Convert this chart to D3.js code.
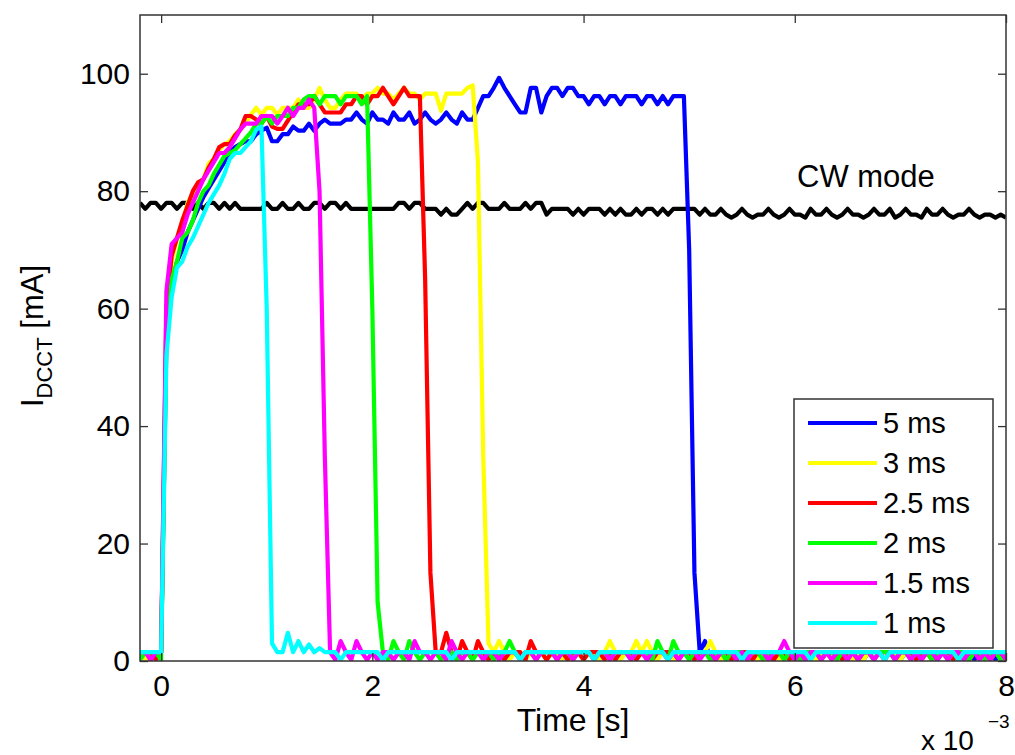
<!DOCTYPE html>
<html><head><meta charset="utf-8">
<script src="https://cdn.jsdelivr.net/npm/d3@7"></script>
<style>
html,body{margin:0;padding:0;background:#fff;}
svg text{font-family:"Liberation Sans",Arial,Helvetica,sans-serif;fill:#000;}
</style></head>
<body><svg id="chart" width="1015" height="755"></svg>
<script>
// ---- data (time grid in ms, step 0.05 ms from -0.2 to 8.0) ----
const time = d3.range(165).map(i => +(-0.2 + 0.05 * i).toFixed(2));

const labels = ["5 ms", "3 ms", "2.5 ms", "2 ms", "1.5 ms", "1 ms"];
const colors = ["#0000ff", "#ffff00", "#ff0000", "#00ff00", "#ff00ff", "#00ffff"];

const pulse5 = [
1.5,1.5,0.2,1.5,1.5,
55,64,68,70,73,75,77,79,80.5,82,83.5,85,86.5,87.5,88,88.5,88.5,89.7,90.3,90.8,
88.5,88.5,89.7,89.7,91,90.3,90.3,91.5,90.3,91.5,92.2,91.5,91.5,91.5,92.2,92.2,93.4,92.2,91.5,93.4,
92.2,92.2,91.5,93.4,92.2,92.2,93.4,91.5,92.2,93.4,92.2,91.5,92.2,93.4,92.2,91.5,93.4,92.2,
92.2,94.2,96.2,96.2,97.6,99.3,97.6,96.2,94.8,93.4,93.4,97.6,97.6,93.4,96.2,97.6,97.6,96.2,97.6,97.6,
96.2,96.2,94.8,96.2,96.2,94.8,96.2,96.2,94.8,96.2,96.2,96.2,94.8,96.2,96.2,94.8,96.2,94.8,96.2,96.2,
96.2,
70,15,1.5,
3.4,
0.2,1.5,1.5,0.2,1.5,0.2,1.5,1.5,1.5,0.2,1.5,1.5,0.2,1.5,1.5,1.5,0.2,1.5,0.2,1.5,
1.5,0.2,1.5,1.5,1.5,1.5,0.2,1.5,1.5,0.2,1.5,1.5,1.5,0.2,1.5,1.5,0.2,1.5,1.5,1.5,
0.2,1.5,1.5,0.2,1.5,1.5,1.5,0.2,1.5,1.5,0.2,1.5,1.5,1.5,0.2,1.5,1.5
];

const pulse3 = [
1.5,0.2,1.5,1.5,1.5,
58,68,72,74,78,79.5,81,82,84.7,85.5,87,88,88.5,89.7,90.5,91.5,93,94.2,93,94.2,
94.2,93,94.2,94.2,94.2,95.6,94.2,94.2,95.6,97.6,95.6,94.2,94.2,95.6,96.6,96.6,96.6,95.6,96.6,96.6,
97.6,96.6,96.6,95.6,96.6,97.6,96.6,96.6,95.6,96.6,96.6,96.6,93.7,96.6,96.6,96.6,96.6,97.6,98,
85,35,3,1.5,
3.4,
1.5,0.2,1.5,1.5,0.2,1.5,1.5,1.5,0.2,1.5,1.5,0.2,1.5,1.5,1.5,0.2,1.5,1.5,0.2,1.5,
3.4,1.5,0.2,1.5,1.5,3.4,1.5,3.4,1.5,0.2,1.5,1.5,0.2,1.5,1.5,1.5,0.2,1.5,1.5,3.4,
1.5,0.2,1.5,1.5,1.5,0.2,1.5,1.5,0.2,1.5,1.5,1.5,0.2,1.5,1.5,0.2,1.5,1.5,1.5,0.2,
1.5,1.5,0.2,1.5,1.5,1.5,0.2,1.5,0.2,1.5,1.5,1.5,0.2,1.5,1.5,0.2,1.5,1.5,1.5,0.2,
1.5,0.2,1.5,1.5,1.5,0.2,1.5,1.5,0.2,1.5,1.5,1.5,0.2,1.5,1.5,0.2
];

const pulse25 = [
1.5,1.5,1.5,0.2,1.5,
60,69,72,75,77.5,80,81.5,82,84,85.5,87.5,88,88,89.5,90.5,92.8,92.8,92.2,91.5,92.8,
91,90.6,90.6,92,93.4,94.8,94.8,94.8,96.2,94.8,93.4,93.4,93.4,93.4,94.8,94.8,96.2,96.2,94.8,96.2,
96.2,97.6,96.2,94.8,96.2,97.6,96.2,96.2,96.2,
65,15,1.5,
1.5,4.8,1.5,0.2,3.4,1.5,0.2,3.4,
1.5,0.2,1.5,1.5,0.2,1.5,1.5,1.5,0.2,3.4,1.5,1.5,0.2,1.5,1.5,1.5,0.2,1.5,1.5,0.2,
1.5,1.5,1.5,0.2,1.5,0.2,1.5,1.5,1.5,0.2,1.5,1.5,0.2,1.5,1.5,1.5,1.5,0.2,1.5,1.5,
0.2,1.5,1.5,1.5,0.2,1.5,1.5,0.2,1.5,1.5,1.5,0.2,1.5,1.5,1.5,0.2,1.5,1.5,0.2,1.5,
0.2,1.5,1.5,1.5,0.2,1.5,1.5,1.5,0.2,1.5,1.5,0.2,1.5,1.5,0.2,1.5,1.5,1.5,0.2,1.5,
1.5,1.5,0.2,1.5,1.5,0.2,1.5,1.5,1.5,0.2,1.5,1.5,0.2,1.5,1.5,1.5,0.2,1.5,1.5,0.2
];

const pulse2 = [
0.2,1.5,1.5,1.5,0.2,
55,65,68,72,73,75,78,80,81,83,84.5,86,86.5,87,88,89,90,91.5,91.5,92.8,
91.5,92.8,92.8,92.8,94.2,94.2,95.6,96.2,96.2,94.8,96.2,96.2,96.2,94.8,96.2,96.2,96.2,94.8,96.2,
60,10,1.5,
0.2,3.4,1.5,0.2,3.4,
1.5,0.2,1.5,1.5,1.5,0.2,1.5,1.5,0.2,1.5,1.5,0.2,1.5,1.5,1.5,0.2,1.5,1.5,3.4,1.5,
0.2,1.5,1.5,0.2,1.5,1.5,1.5,0.2,1.5,1.5,0.2,1.5,1.5,1.5,0.2,1.5,1.5,0.2,1.5,1.5,
1.5,0.2,1.5,1.5,1.5,0.2,3.4,1.5,0.2,3.4,1.5,1.5,0.2,1.5,1.5,1.5,0.2,1.5,1.5,0.2,
1.5,1.5,1.5,0.2,1.5,1.5,0.2,1.5,1.5,1.5,0.2,1.5,1.5,0.2,1.5,1.5,1.5,0.2,1.5,1.5,
0.2,1.5,1.5,1.5,0.2,1.5,1.5,0.2,1.5,1.5,1.5,0.2,1.5,1.5,0.2,1.5,1.5,1.5,0.2,1.5,
1.5,0.2,1.5,1.5,1.5,0.2,1.5,1.5,0.2,1.5,1.5,0.2,1.5
];

const pulse15 = [
1.5,1.5,0.2,1.5,1.5,
63,71,72,73,76,78,80,82,83.5,85,86.5,86.5,87.5,89,90.5,91.5,91.5,91.5,92.8,92.8,
92.8,91.5,92.8,94.2,92.8,94.2,94.2,95.6,94.2,
80,35,1.5,
0.2,3.4,1.5,0.2,3.4,
1.5,0.2,1.5,0.2,1.5,1.5,0.2,1.5,1.5,0.2,3.4,1.5,1.5,0.2,1.5,1.5,0.2,3.4,1.5,0.2,
1.5,1.5,1.5,0.2,1.5,1.5,0.2,1.5,1.5,1.5,0.2,1.5,1.5,0.2,1.5,1.5,1.5,0.2,1.5,1.5,
0.2,1.5,1.5,1.5,0.2,1.5,1.5,0.2,1.5,1.5,1.5,0.2,1.5,1.5,0.2,1.5,1.5,1.5,0.2,1.5,
0.2,1.5,1.5,1.5,0.2,1.5,1.5,0.2,1.5,1.5,1.5,0.2,1.5,0.2,1.5,1.5,1.5,0.2,1.5,1.5,
3.4,1.5,0.2,1.5,0.2,1.5,1.5,0.2,1.5,0.2,1.5,1.5,0.2,1.5,0.2,1.5,1.5,0.2,1.5,0.2,
1.5,0.2,1.5,1.5,0.2,1.5,0.2,1.5,1.5,0.2,1.5,0.2,1.5,1.5,0.2,1.5,1.5,0.2,1.5,0.2,
1.5,1.5,0.2
];

const pulse1 = [
1.5,1.5,1.5,1.5,1.5,
52,62,67,68,70.5,72,74,76,78,79.5,81,83,85.5,86.5,86.5,87.5,88.5,90.5,91,
60,3,1.5,1.5,4.8,1.5,3.4,1.5,2.8,1.5,2.2,
1.5,1.5,1.5,0.2,1.5,1.5,1.5,1.5,1.5,1.5,1.5,0.2,1.5,1.5,1.5,1.5,1.5,1.5,1.5,1.5,
1.5,1.5,1.5,1.5,0.2,1.5,1.5,1.5,1.5,1.5,1.5,1.5,1.5,1.5,1.5,1.5,1.5,0.2,1.5,1.5,
1.5,1.5,1.5,1.5,1.5,1.5,1.5,1.5,1.5,1.5,1.5,0.2,1.5,1.5,1.5,1.5,1.5,1.5,1.5,1.5,
1.5,1.5,1.5,1.5,1.5,0.2,1.5,1.5,1.5,1.5,1.5,1.5,1.5,1.5,1.5,1.5,1.5,1.5,1.5,0.2,
1.5,1.5,1.5,1.5,1.5,1.5,1.5,1.5,1.5,1.5,1.5,1.5,0.2,1.5,1.5,1.5,1.5,1.5,1.5,1.5,
1.5,1.5,1.5,1.5,1.5,1.5,0.2,1.5,1.5,1.5,1.5,1.5,1.5,1.5,1.5,1.5,1.5,1.5,1.5,1.5,
0.2,1.5,1.5,1.5,1.5,1.5,1.5,1.5,1.5,1.5
];

const cwMode = [
78,77,78,78,77,78,78,77,78,78,77,
78,77,78,78,
77,78,77,78,
77,77,77,77,77,
78,77,77,78,77,77,78,77,77,78,
78,77,78,78,77,78,77,77,77,77,
77,77,77,77,77,78,78,77,78,78,
77,77,77,76,77,76,76,77,78,77,
78,78,77,77,77,78,77,77,77,78,
77,78,78,76,77,77,77,77,76,77,
76,77,77,77,76,77,76,77,76,76,
77,76,77,77,76,77,76,77,77,77,
77,77,76,77,76,76,77,
76,75.5,76,77,76,75.5,76,76,77,76,
75.5,76,77,76,76,75.5,77,76,76,77,
76,75.5,76,77,76,76,75.5,76,77,76,
76,77,75.5,76,77,76,76,75.5,77,76,
76,77,76,75.5,76,76,77,76,75.5,76,
76,75.5,76,75.5
];

const xTicks = [0, 2, 4, 6, 8];
const yTicks = [0, 20, 40, 60, 80, 100];

// ---- drawing ----
const svg = d3.select("#chart");
svg.append("rect").attr("width",1015).attr("height",755).attr("fill","#fff");
const L = 140, R = 1006, T = 15, B = 661;
const x = d3.scaleLinear().domain([-0.2, 8]).range([L, R]);
const y = d3.scaleLinear().domain([0, 110]).range([B, T]);

svg.append("defs").append("clipPath").attr("id","clip")
  .append("rect").attr("x",L).attr("y",T).attr("width",R-L).attr("height",B-T);

const plot = svg.append("g").attr("clip-path","url(#clip)");
const line = d3.line().x((d,i)=>x(time[i])).y(d=>y(d));
const LW = 4.2;

plot.append("path").datum(cwMode).attr("d",line)
  .attr("fill","none").attr("stroke","#000").attr("stroke-width",LW).attr("stroke-linejoin","round");

const series = [pulse5, pulse3, pulse25, pulse2, pulse15, pulse1];
series.forEach((s,k)=>{
  plot.append("path").datum(s).attr("d",line)
    .attr("fill","none").attr("stroke",colors[k]).attr("stroke-width",LW)
    .attr("stroke-linejoin","round");
});

// axes (ticks inside)
const fs = 30;
const gx = svg.append("g").attr("transform",`translate(0,${B})`)
  .call(d3.axisBottom(x).tickValues(xTicks).tickSize(-8).tickPadding(14).tickFormat(d3.format("d")));
const gxt = svg.append("g").attr("transform",`translate(0,${T})`)
  .call(d3.axisTop(x).tickValues(xTicks).tickSize(-8).tickFormat(""));
const gy = svg.append("g").attr("transform",`translate(${L},0)`)
  .call(d3.axisLeft(y).tickValues(yTicks).tickSize(-8).tickPadding(10).tickFormat(d3.format("d")));
const gyr = svg.append("g").attr("transform",`translate(${R},0)`)
  .call(d3.axisRight(y).tickValues(yTicks).tickSize(-8).tickFormat(""));
[gx,gxt,gy,gyr].forEach(g=>{
  g.select(".domain").remove();
  g.selectAll(".tick line").attr("stroke","#333").attr("stroke-width",1.3);
  g.selectAll("text").attr("font-size",fs).attr("font-family","Liberation Sans, Arial, sans-serif").attr("fill","#000");
});
svg.append("rect").attr("x",L).attr("y",T).attr("width",R-L).attr("height",B-T)
  .attr("fill","none").attr("stroke","#333").attr("stroke-width",1.5);

// axis labels
svg.append("text").attr("x",(L+R)/2).attr("y",731).attr("text-anchor","middle")
  .attr("font-size",32).text("Time [s]");
svg.append("text").attr("x",921).attr("y",750).attr("font-size",28).text("x 10");
svg.append("text").attr("x",988).attr("y",728).attr("font-size",19).text("−3");

const yl = svg.append("text").attr("transform","translate(43,336) rotate(-90)")
  .attr("text-anchor","middle").attr("font-size",31);
yl.append("tspan").text("I");
yl.append("tspan").attr("font-size",22).attr("dy",9).text("DCCT");
yl.append("tspan").attr("dy",-9).text(" [mA]");

svg.append("text").attr("x",797).attr("y",187).attr("font-size",31).text("CW mode");

// legend
const lg = svg.append("g");
lg.append("rect").attr("x",794).attr("y",399).attr("width",199).attr("height",249)
  .attr("fill","#fff").attr("stroke","#333").attr("stroke-width",1.5);
labels.forEach((lab,k)=>{
  const yy = 423 + k*40;
  lg.append("line").attr("x1",808).attr("x2",877).attr("y1",yy).attr("y2",yy)
    .attr("stroke",colors[k]).attr("stroke-width",LW);
  lg.append("text").attr("x",883).attr("y",yy+10).attr("font-size",29).text(lab);
});
</script></body></html>
